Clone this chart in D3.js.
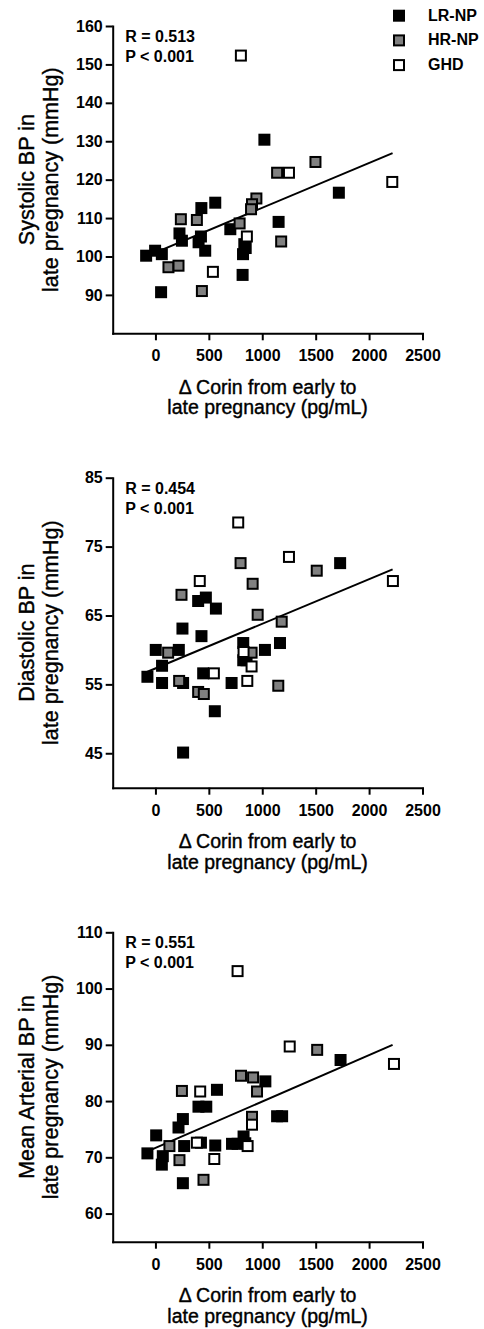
<!DOCTYPE html>
<html lang="en">
<head>
  <meta charset="UTF-8">
  <title>Corin vs BP in late pregnancy</title>
  <style>
    body {
      margin: 0;
      background: #ffffff;
    }
    svg {
      display: block;
      font-family: "Liberation Sans", Arial, sans-serif;
    }
    .axis path, .axis line {
      stroke: #000;
      stroke-width: 2px;
    }
    .axis path {
      stroke-linecap: square;
    }
    .title {
      stroke: #000;
      stroke-width: 0.4px;
    }
  </style>
</head>
<body>
<div id="chart"></div>
<script src="https://d3js.org/d3.v7.min.js"></script>
<script>
  // categories / legend
  const groups = ["LR-NP", "HR-NP", "GHD"];
  const xTicks = [0, 500, 1000, 1500, 2000, 2500];
  const xTitle = ["\u0394 Corin from early to", "late pregnancy (pg/mL)"];

  // panel 1: systolic BP
  const sbpTicks = [90, 100, 110, 120, 130, 140, 150, 160];
  const sbpTitle = ["Systolic BP in", "late pregnancy (mmHg)"];
  const sbpStats = ["R = 0.513", "P < 0.001"];
  const sbpFit = [[-80, 100.1], [2220, 126.9]];
  const sbpLR = [[1020, 130.4], [1717, 116.6], [1153, 109], [560, 114], [430, 112.6], [225, 106],
    [248, 104.1], [426, 105.2], [404, 103.7], [466, 101.5], [701, 107.1], [832, 103.2], [820, 100.6],
    [845, 102.2], [816, 95.2], [53, 90.7], [-87, 100.2], [-3, 101.5], [60, 100.6]];
  const sbpHR = [[1498, 124.6], [1139, 121.8], [945, 115.1], [904, 113.6], [895, 112.3], [788, 108.6],
    [238, 109.7], [388, 109.5], [1177, 103.9], [122, 97.2], [216, 97.6], [435, 91]];
  const sbpGHD = [[800, 152.3], [1250, 121.8], [2217, 119.4], [856, 105.2], [538, 96]];

  // panel 2: diastolic BP
  const dbpTicks = [45, 55, 65, 75, 85];
  const dbpTitle = ["Diastolic BP in", "late pregnancy (mmHg)"];
  const dbpStats = ["R = 0.454", "P < 0.001"];
  const dbpFit = [[-80, 56.8], [2220, 71.7]];
  const dbpLR = [[1729, 72.6], [400, 67.1], [472, 67.6], [566, 66], [253, 63.1], [431, 62], [3, 60],
    [219, 60], [822, 61], [1025, 60], [1166, 61], [822, 58.5], [853, 58.5], [62, 57.7], [-75, 56.1],
    [62, 55.2], [259, 55.2], [447, 56.6], [713, 55.2], [556, 51.1], [259, 45.1]];
  const dbpHR = [[797, 72.6], [1510, 71.5], [910, 69.6], [244, 68], [957, 65.1], [1182, 64.1],
    [119, 59.6], [900, 59.6], [222, 55.5], [400, 53.9], [453, 53.6], [1150, 54.8]];
  const dbpGHD = [[775, 78.5], [1250, 73.5], [2223, 70], [415, 70], [547, 56.6], [900, 57.6],
    [860, 55.5], [825, 59.7]];

  // panel 3: mean arterial BP
  const mapTicks = [60, 70, 80, 90, 100, 110];
  const mapTitle = ["Mean Arterial BP in", "late pregnancy (mmHg)"];
  const mapStats = ["R = 0.551", "P < 0.001"];
  const mapFit = [[-80, 71], [2220, 90]];
  const mapLR = [[1733, 87.3], [1029, 83.5], [576, 82], [403, 79], [476, 79], [1139, 77.3], [1186, 77.3],
    [257, 76.8], [216, 75.3], [7, 73.9], [269, 72], [426, 72.6], [560, 72.1], [717, 72.4], [769, 72.4],
    [825, 73.7], [841, 72.5], [-75, 70.7], [69, 70.2], [60, 68.7], [257, 65.4]];
  const mapHR = [[1514, 89.1], [801, 84.5], [914, 84.2], [951, 81.7], [248, 81.8], [904, 77.2],
    [131, 72], [225, 69.5], [450, 66]];
  const mapGHD = [[1257, 89.7], [2233, 86.6], [419, 81.7], [904, 75.8], [863, 72], [551, 69.7],
    [769, 103.1], [388, 72.6]];

  const panels = [
    { top: 26, bottom: 333.3, domain: [80, 160], ticks: sbpTicks, title: sbpTitle, stats: sbpStats,
      fit: sbpFit, series: [sbpLR, sbpHR, sbpGHD] },
    { top: 477.7, bottom: 787.7, domain: [40, 85], ticks: dbpTicks, title: dbpTitle, stats: dbpStats,
      fit: dbpFit, series: [dbpLR, dbpHR, dbpGHD] },
    { top: 932.3, bottom: 1241.7, domain: [55, 110], ticks: mapTicks, title: mapTitle, stats: mapStats,
      fit: mapFit, series: [mapLR, mapHR, mapGHD] }
  ];

  const fills = ["#000000", "#808080", "#ffffff"];
  const width = 484, height = 1329;
  const left = 112.7, right = 422.5;
  const box = 10;
  const font = "'Liberation Sans', Arial, sans-serif";

  const svg = d3.select("#chart").append("svg")
      .attr("width", width)
      .attr("height", height);

  svg.append("rect").attr("width", width).attr("height", height).attr("fill", "#fff");

  const xScale = d3.scaleLinear().domain([-400, 2500]).range([left, right]);

  function styleAxis(sel) {
    sel.attr("font-size", 16)
        .attr("font-weight", "bold")
        .attr("font-family", font);
    sel.selectAll("text").attr("fill", "#000");
  }

  panels.forEach(p => {
    const yScale = d3.scaleLinear().domain(p.domain).range([p.bottom, p.top]);
    const g = svg.append("g");

    g.append("g")
        .attr("class", "axis")
        .attr("transform", `translate(0,${p.bottom})`)
        .call(d3.axisBottom(xScale).tickValues(xTicks).tickFormat(d3.format("d"))
            .tickSize(7).tickSizeOuter(0).tickPadding(9.5))
        .call(styleAxis);

    g.append("g")
        .attr("class", "axis")
        .attr("transform", `translate(${left},0)`)
        .call(d3.axisLeft(yScale).tickValues(p.ticks).tickFormat(d3.format("d"))
            .tickSize(7).tickSizeOuter(0).tickPadding(3))
        .call(styleAxis);

    // regression line
    g.append("line")
        .attr("x1", xScale(p.fit[0][0])).attr("y1", yScale(p.fit[0][1]))
        .attr("x2", xScale(p.fit[1][0])).attr("y2", yScale(p.fit[1][1]))
        .attr("stroke", "#000").attr("stroke-width", 2);

    // points, LR-NP first
    p.series.forEach((pts, i) => {
      g.append("g").selectAll("rect")
          .data(pts)
          .enter()
          .append("rect")
          .attr("x", d => xScale(d[0]) - box / 2)
          .attr("y", d => yScale(d[1]) - box / 2)
          .attr("width", box)
          .attr("height", box)
          .attr("fill", fills[i])
          .attr("stroke", "#000")
          .attr("stroke-width", 2);
    });

    // R and P
    g.selectAll(".stat")
        .data(p.stats)
        .enter()
        .append("text")
        .attr("x", left + 12.5)
        .attr("y", (d, i) => p.top + 16 + i * 20)
        .attr("font-size", 16)
        .attr("font-weight", "bold")
        .text(d => d);

    // y title
    const mid = (p.top + p.bottom) / 2;
    g.selectAll(".ytitle")
        .data(p.title)
        .enter()
        .append("text")
        .attr("class", "title")
        .attr("transform", (d, i) => `translate(${33.5 + i * 24.3},${mid}) rotate(-90)`)
        .attr("text-anchor", "middle")
        .attr("font-size", 21.5)
        .text(d => d);

    // x title
    g.selectAll(".xtitle")
        .data(xTitle)
        .enter()
        .append("text")
        .attr("class", "title")
        .attr("x", (left + right) / 2)
        .attr("y", (d, i) => p.bottom + 60.5 + i * 20.5)
        .attr("text-anchor", "middle")
        .attr("font-size", 19.5)
        .text(d => d);
  });

  // legend
  const legend = svg.append("g");
  groups.forEach((name, i) => {
    const cy = 15.7 + i * 24.7;
    legend.append("rect")
        .attr("x", 399 - box / 2).attr("y", cy - box / 2)
        .attr("width", box).attr("height", box)
        .attr("fill", fills[i]).attr("stroke", "#000").attr("stroke-width", 2);
    legend.append("text")
        .attr("x", 428).attr("y", cy + 5)
        .attr("font-size", 16).attr("font-weight", "bold")
        .text(name);
  });
</script>
</body>
</html>
